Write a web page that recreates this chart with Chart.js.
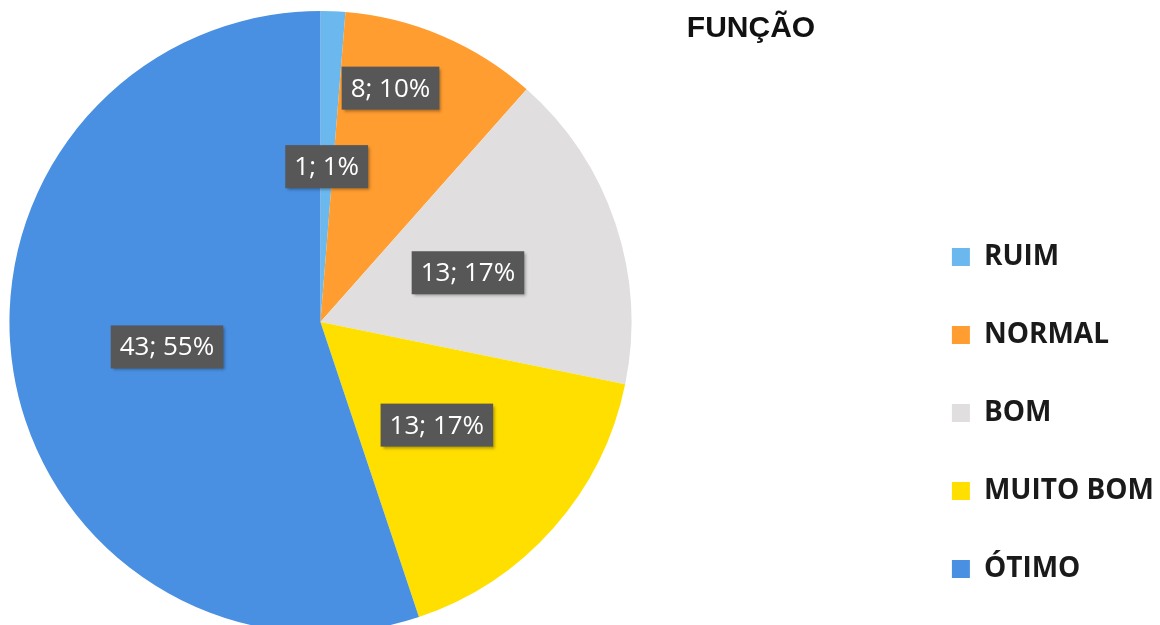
<!DOCTYPE html>
<html>
<head>
<meta charset="utf-8">
<script src="https://cdn.jsdelivr.net/npm/chart.js@4/dist/chart.umd.min.js"></script>
<style>
    html, body { margin: 0; padding: 0; background: #fff; overflow: hidden; width: 1160px; height: 625px; }
    /* the pie in the scan runs past the left/bottom edges, so the canvas is bigger than the page */
    #wrap { position: absolute; left: -261px; top: 0; width: 1425px; height: 633px; }
</style>
</head>
<body>
<div id="wrap"><canvas id="chart"></canvas></div>
<script>
const categories = ["RUIM", "NORMAL", "BOM", "MUITO BOM", "ÓTIMO"];
const counts = [1, 8, 13, 13, 43];
const sliceColors = ["#6bb8ee", "#ff9d30", "#e0dedf", "#ffdf00", "#4a90e2"];
const titleText = "FUNÇÃO";

const pageShift = 261;

// Excel moved the NORMAL label out so it doesn't sit on top of the 1% one
const labelPlacement = {
    1: {radius: 0.785, angle: -6.4},
};

const total = counts.reduce((a, b) => a + b, 0);

const dataLabels = {
    id: "dataLabels",
    afterDatasetsDraw(chart) {
        const ctx = chart.ctx;
        const meta = chart.getDatasetMeta(0);
        ctx.save();
        ctx.font = "26px 'Open Sans'";
        ctx.textAlign = "center";
        ctx.textBaseline = "middle";
        meta.data.forEach((arc, i) => {
            const p = arc.getProps(["x", "y", "startAngle", "endAngle", "outerRadius"], true);
            const place = labelPlacement[i] || {radius: 0.5, angle: 0};
            const a = (p.startAngle + p.endAngle) / 2 + place.angle * Math.PI / 180;
            const r = p.outerRadius * place.radius;
            const cx = p.x + Math.cos(a) * r;
            const cy = p.y + Math.sin(a) * r;
            const pct = Math.round(counts[i] / total * 100);
            const text = `${counts[i]}; ${pct}%`;
            const w = ctx.measureText(text).width + 18;
            const h = 43;
            ctx.shadowColor = "rgba(0, 0, 0, 0.35)";
            ctx.shadowBlur = 3;
            ctx.shadowOffsetX = 2;
            ctx.shadowOffsetY = 2;
            ctx.fillStyle = "#575757";
            ctx.fillRect(cx - w / 2, cy - h / 2, w, h);
            ctx.shadowColor = "transparent";
            ctx.fillStyle = "#ffffff";
            ctx.fillText(text, cx, cy + 1);
        });
        ctx.restore();
    }
};

const titleDraw = {
    id: "titleDraw",
    afterDraw(chart) {
        const ctx = chart.ctx;
        ctx.save();
        ctx.font = "bold 30px 'Liberation Sans'";
        ctx.fillStyle = "#111111";
        ctx.textAlign = "center";
        ctx.textBaseline = "alphabetic";
        ctx.fillText(titleText, 751 + pageShift, 37);
        ctx.restore();
    }
};

new Chart(document.getElementById("chart"), {
    type: "pie",
    data: {
        labels: categories,
        datasets: [{
            data: counts,
            backgroundColor: sliceColors,
            borderWidth: 0,
        }]
    },
    options: {
        responsive: true,
        maintainAspectRatio: false,
        animation: false,
        layout: {
            padding: {left: 0, right: 0, top: 11, bottom: 0}
        },
        plugins: {
            legend: {
                position: "right",
                align: "end",
                labels: {
                    boxWidth: 18,
                    boxHeight: 18,
                    padding: 50,
                    color: "#1a1a1a",
                    font: {family: "'Open Sans'", size: 28, weight: "bold"},
                }
            },
            tooltip: {enabled: false},
        }
    },
    plugins: [dataLabels, titleDraw]
});
</script>
</body>
</html>
